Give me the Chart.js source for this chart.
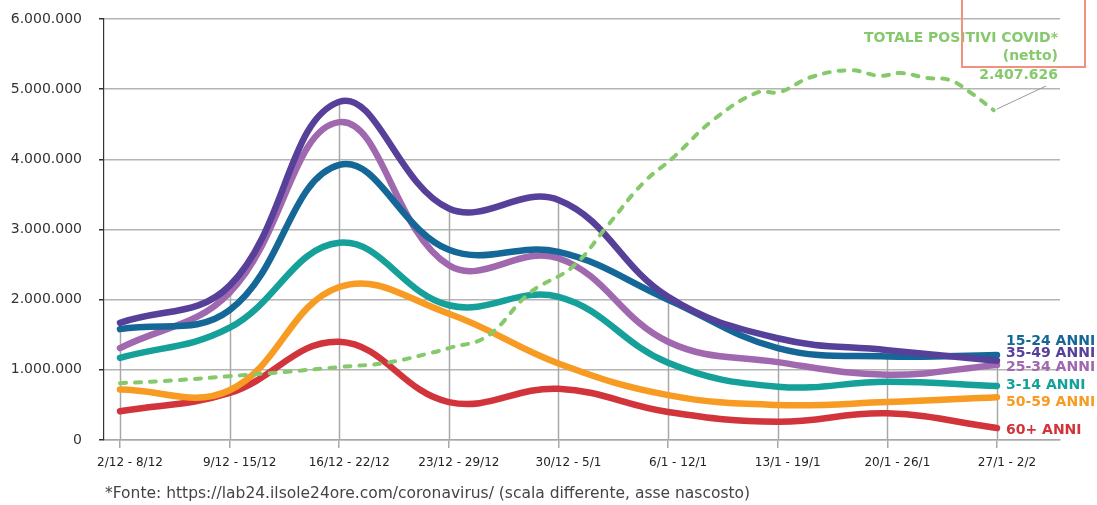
<!DOCTYPE html>
<html>
<head>
<meta charset="utf-8">
<script src="https://cdn.jsdelivr.net/npm/chart.js@4/dist/chart.umd.min.js"></script>
<style>
html,body{margin:0;padding:0;background:#fff;}
canvas{display:block;}
</style>
</head>
<body>
<canvas id="chart" width="1097" height="505"></canvas>
<script>
/* ================= DATA ================= */

const weeks=["2/12 - 8/12","9/12 - 15/12","16/12 - 22/12","23/12 - 29/12","30/12 - 5/1","6/1 - 12/1","13/1 - 19/1","20/1 - 26/1","27/1 - 2/2"];

const anni15_24=[1580000,1850000,3920000,2710000,2680000,2000000,1310000,1190000,1210000];
const anni35_49=[1670000,2200000,4820000,3300000,3420000,2040000,1450000,1280000,1130000];
const anni25_34=[1310000,2100000,4530000,2490000,2590000,1400000,1110000,930000,1070000];
const anni3_14=[1170000,1600000,2810000,1920000,2040000,1100000,760000,830000,770000];
const anni50_59=[720000,710000,2180000,1800000,1090000,640000,500000,540000,610000];
const anni60=[410000,670000,1400000,540000,730000,400000,260000,380000,170000];

/* totale positivi (scala differente): position along the weeks + value */
const positiviX=[0,0.5,1,1.5,2,2.43,2.86,3,3.35,3.74,4.13,4.44,4.77,5.05,5.41,5.81,6.02,6.3,6.66,6.93,7.12,7.36,7.57,7.76,7.97];
const positiviY=[810000,850000,910000,970000,1040000,1100000,1250000,1310000,1480000,2100000,2470000,3040000,3660000,4030000,4560000,4950000,4960000,5170000,5270000,5190000,5230000,5160000,5130000,4950000,4700000];

const yTicks=[0,1000000,2000000,3000000,4000000,5000000,6000000];

const ageLabels=["15-24 ANNI","35-49 ANNI","25-34 ANNI","3-14 ANNI","50-59 ANNI","60+ ANNI"];
const annotationText=["TOTALE POSITIVI COVID*","(netto)","2.407.626"];
const footnote="*Fonte: https://lab24.ilsole24ore.com/coronavirus/ (scala differente, asse nascosto)";

/* ================= STYLE ================= */

const FONT="'DejaVu Sans', sans-serif";
const colors={
a15:"#146796",a35:"#56409A",a25:"#A068AE",a3:"#16A09A",a50:"#F89B22",a60:"#D2343C",green:"#86C96C"
};

function pts(arr){return arr.map((v,i)=>({x:i,y:v}));}
function fmt(v){return String(v).replace(/\B(?=(\d{3})+(?!\d))/g,".");}

function ageSet(label,arr,color){
return {
label:label,data:pts(arr),borderColor:color,backgroundColor:color,
borderWidth:6.5,pointRadius:0,tension:0.4,
borderCapStyle:"round",borderJoinStyle:"round",fill:false
};
}

const ages=[
{key:"a15",label:ageLabels[0],data:anni15_24,dy:-14},
{key:"a35",label:ageLabels[1],data:anni35_49,dy:-7},
{key:"a25",label:ageLabels[2],data:anni25_34,dy:2},
{key:"a3",label:ageLabels[3],data:anni3_14,dy:-1},
{key:"a50",label:ageLabels[4],data:anni50_59,dy:5},
{key:"a60",label:ageLabels[5],data:anni60,dy:2}
];

/* ================= PLUGIN: drop lines, labels, notes ================= */

const decor={
id:"decor",
beforeDatasetsDraw(chart){
const {ctx,chartArea,scales:{x,y}}=chart;
ctx.save();
ctx.strokeStyle="#a8a8a8";
ctx.lineWidth=1.5;
weeks.forEach((w,i)=>{
let top=Math.max(...ages.map(a=>a.data[i]));
let px=Math.round(x.getPixelForValue(i))+0.5;
ctx.beginPath();
ctx.moveTo(px,y.getPixelForValue(top));
ctx.lineTo(px,chartArea.bottom);
ctx.stroke();
});
ctx.restore();
},
afterDraw(chart){
const {ctx,chartArea,scales:{x,y}}=chart;
ctx.save();

/* age labels at the right end */
ctx.font="bold 14px "+FONT;
ctx.textAlign="left";
ctx.textBaseline="middle";
let lastX=x.getPixelForValue(weeks.length-1);
ages.slice().reverse().forEach(a=>{
ctx.fillStyle=colors[a.key];
ctx.fillText(a.label,lastX+9,y.getPixelForValue(a.data[a.data.length-1])+a.dy);
});

/* annotation for the dashed line */
ctx.fillStyle=colors.green;
ctx.font="bold 14px "+FONT;
ctx.textAlign="right";
let ax=chartArea.right-2;
annotationText.forEach((t,i)=>ctx.fillText(t,ax,chartArea.top+19+i*18.5));

let gx=x.getPixelForValue(positiviX[positiviX.length-1]);
let gy=y.getPixelForValue(positiviY[positiviY.length-1]);
ctx.strokeStyle="#999";
ctx.lineWidth=1;
ctx.beginPath();
ctx.moveTo(gx+3,gy-1);
ctx.lineTo(ax-12,chartArea.top+67);
ctx.stroke();

ctx.strokeStyle="#F4907F";
ctx.lineWidth=2;
ctx.strokeRect(962,-2,123,69);

/* footnote */
ctx.fillStyle="#444";
ctx.font="15.5px "+FONT;
ctx.textAlign="left";
ctx.fillText(footnote,chartArea.left+1,chart.height-11);

ctx.restore();
}
};

/* ================= CHART ================= */

const datasets=[{
label:"Totale positivi",
data:positiviX.map((v,i)=>({x:v,y:positiviY[i]})),
borderColor:colors.green,borderWidth:4,borderDash:[6,9],borderCapStyle:"round",
pointRadius:0,tension:0.4,fill:false
}];
[1,0,2,3,4,5].forEach(i=>datasets.push(ageSet(ages[i].label,ages[i].data,colors[ages[i].key])));

new Chart(document.getElementById("chart"),{
type:"line",
data:{datasets:datasets},
plugins:[decor],
options:{
responsive:false,
animation:false,
layout:{padding:{top:19,right:37,left:0,bottom:0}},
plugins:{legend:{display:false},tooltip:{enabled:false}},
scales:{
x:{
type:"linear",
min:-0.146,max:8.575,
afterBuildTicks:s=>{s.ticks=weeks.map((w,i)=>({value:i}));},
afterFit:s=>{s.height=65;},
ticks:{
autoSkip:false,maxRotation:0,padding:8,labelOffset:10,color:"#222",
font:{family:FONT,size:12},
callback:v=>weeks[v]
},
grid:{drawOnChartArea:false,drawTicks:true,tickLength:8,color:"#a8a8a8",lineWidth:1.5},
border:{color:"#a8a8a8",width:1.5}
},
y:{
min:0,max:6000000,
afterBuildTicks:s=>{s.ticks=yTicks.map(v=>({value:v}));},
afterFit:s=>{s.width=104;s.paddingTop=0;s.paddingBottom=0;},
ticks:{
padding:17,color:"#333",
font:{family:FONT,size:14},
callback:v=>fmt(v)
},
grid:{color:"#b4b4b4",lineWidth:1.5,tickLength:5,tickColor:"#333"},
border:{color:"#333",width:1.2}
}
}
}
});
</script>
</body>
</html>
